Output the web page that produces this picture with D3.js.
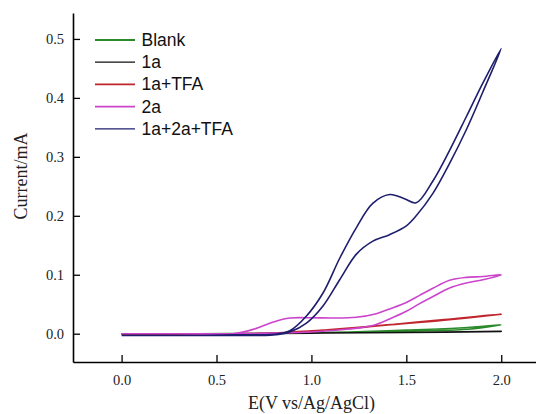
<!DOCTYPE html>
<html>
<head>
<meta charset="utf-8">
<script src="https://cdn.jsdelivr.net/npm/d3@7"></script>
<style>
  html, body { margin: 0; padding: 0; background: #fff; }
  svg { display: block; }
  .serif { font-family: "Liberation Serif", "Times New Roman", "DejaVu Serif", serif; }
  .sans { font-family: "Liberation Sans", Arial, sans-serif; }
</style>
</head>
<body>
<svg id="chart" width="536" height="414"></svg>
<script>
// ---- data ----
const seriesNames = ["Blank", "1a", "1a+TFA", "2a", "1a+2a+TFA"];
const seriesColors = ["#2a8a2a", "#111111", "#c0262e", "#cc44cc", "#1e1e6e"];

// Blank
const blankFwdE = [0, 0.4, 0.8, 1.2, 1.5, 1.8, 2.0];
const blankFwdI = [0.000, 0.000, 0.001, 0.003, 0.006, 0.010, 0.015];
const blankRevE = [2.0, 1.8, 1.5, 1.0, 0.5, 0];
const blankRevI = [0.011, 0.007, 0.004, 0.002, 0.000, 0.000];

// 1a
const s1aFwdE = [0, 0.5, 1.0, 1.5, 2.0];
const s1aFwdI = [-0.001, -0.001, 0.001, 0.002, 0.004];
const s1aRevE = [2.0, 1.5, 1.0, 0.5, 0];
const s1aRevI = [0.004, 0.002, 0.001, -0.001, -0.001];

// 1a+TFA
const tfaFwdE = [0, 0.6, 0.8, 1.0, 1.2, 1.465, 1.7, 2.0];
const tfaFwdI = [0, 0, 0.001, 0.005, 0.009, 0.017, 0.024, 0.033];
const tfaRevE = [2.0, 1.7, 1.4, 1.1, 0.9, 0.6, 0];
const tfaRevI = [0.033, 0.023, 0.015, 0.007, 0.002, 0, 0];

// 2a
const s2aFwdE = [0, 0.3, 0.587, 0.7, 0.8, 0.886, 1.0, 1.113, 1.237, 1.342, 1.412, 1.5, 1.57, 1.64, 1.728, 1.816, 1.903, 2.0];
const s2aFwdI = [0, 0, 0, 0.008, 0.020, 0.0266, 0.027, 0.0266, 0.028, 0.034, 0.042, 0.053, 0.065, 0.077, 0.0905, 0.0955, 0.097, 0.100];
const s2aRevE = [2.0, 1.903, 1.816, 1.728, 1.64, 1.57, 1.5, 1.412, 1.323, 1.2, 1.0, 0.8, 0.6, 0.3, 0];
const s2aRevI = [0.100, 0.0915, 0.086, 0.0775, 0.063, 0.051, 0.038, 0.025, 0.014, 0.008, 0.003, 0.001, 0, 0, 0];

// 1a+2a+TFA
const mixFwdE = [0, 0.2, 0.4, 0.6, 0.8, 0.886, 0.974, 1.061, 1.149, 1.237, 1.323, 1.412, 1.49, 1.552, 1.64, 1.728, 1.816, 1.903, 2.0];
const mixFwdI = [-0.003, -0.003, -0.003, -0.002, -0.001, 0.005, 0.030, 0.069, 0.128, 0.180, 0.221, 0.236, 0.229, 0.222, 0.259, 0.311, 0.368, 0.425, 0.484];
const mixRevE = [2.0, 1.903, 1.816, 1.728, 1.64, 1.552, 1.5, 1.412, 1.324, 1.237, 1.149, 1.061, 0.974, 0.886, 0.8, 0.6, 0.4, 0.2, 0];
const mixRevI = [0.484, 0.41, 0.346, 0.289, 0.238, 0.200, 0.183, 0.168, 0.157, 0.135, 0.0915, 0.047, 0.018, 0.003, -0.002, -0.003, -0.003, -0.003, -0.003];

const xTicks = [0.0, 0.5, 1.0, 1.5, 2.0];
const yTicks = [0.0, 0.1, 0.2, 0.3, 0.4, 0.5];

const series = [
  {fwdE: blankFwdE, fwdI: blankFwdI, revE: blankRevE, revI: blankRevI},
  {fwdE: s1aFwdE, fwdI: s1aFwdI, revE: s1aRevE, revI: s1aRevI},
  {fwdE: tfaFwdE, fwdI: tfaFwdI, revE: tfaRevE, revI: tfaRevI},
  {fwdE: s2aFwdE, fwdI: s2aFwdI, revE: s2aRevE, revI: s2aRevI},
  {fwdE: mixFwdE, fwdI: mixFwdI, revE: mixRevE, revI: mixRevI}
];

// ---- layout ----
const svg = d3.select("#chart");
const x = d3.scaleLinear().domain([-0.256, 2.22]).range([73, 543]);
const y = d3.scaleLinear().domain([-0.048, 0.544]).range([362, 13]);

// axes
const xAxis = d3.axisBottom(x).tickValues(xTicks).tickFormat(d3.format(".1f"))
  .tickSizeInner(-7).tickSizeOuter(0).tickPadding(13);
const yAxis = d3.axisLeft(y).tickValues(yTicks).tickFormat(d3.format(".1f"))
  .tickSizeInner(-7).tickSizeOuter(0).tickPadding(9);

const gx = svg.append("g").attr("transform", `translate(0,${y.range()[0]})`).call(xAxis);
const gy = svg.append("g").attr("transform", `translate(${x.range()[0]},0)`).call(yAxis);
[gx, gy].forEach(g => {
  g.attr("font-family", null).attr("font-size", null);
  g.selectAll("path.domain").attr("stroke", "#000").attr("stroke-width", 1.6);
  g.selectAll(".tick line").attr("stroke", "#000").attr("stroke-width", 1.3);
  g.selectAll(".tick text").attr("class", "serif")
    .style("font-size", "14.5px").attr("fill", "#222");
});

// curves
const line = d3.line().x(d => x(d[0])).y(d => y(d[1])).curve(d3.curveCatmullRom.alpha(0.5));
series.forEach((s, i) => {
  const pts = s.fwdE.map((e, k) => [e, s.fwdI[k]])
    .concat(s.revE.map((e, k) => [e, s.revI[k]]).slice(1));
  svg.append("path").datum(pts)
    .attr("d", line)
    .attr("fill", "none")
    .attr("stroke", seriesColors[i])
    .attr("stroke-width", 1.6)
    .attr("stroke-linejoin", "round");
});

// legend
const legend = svg.append("g");
seriesNames.forEach((name, i) => {
  const ly = 40 + i * 22.2;
  legend.append("line").attr("x1", 95).attr("x2", 135).attr("y1", ly).attr("y2", ly)
    .attr("stroke", seriesColors[i]).attr("stroke-width", i === 1 || i === 4 ? 1.2 : 1.8);
  legend.append("text").attr("x", 141.5).attr("y", ly + 6)
    .attr("class", "sans").style("font-size", "17.5px")
    .attr("fill", "#111").text(name);
});

// axis titles
svg.append("text").attr("x", 311.5).attr("y", 409)
  .attr("text-anchor", "middle").attr("class", "serif")
  .style("font-size", "18px").attr("fill", "#222").text("E(V vs/Ag/AgCl)");
svg.append("text").attr("transform", "translate(27,176) rotate(-90)")
  .attr("text-anchor", "middle").attr("class", "serif")
  .style("font-size", "18px").attr("fill", "#222").text("Current/mA");
</script>
</body>
</html>
